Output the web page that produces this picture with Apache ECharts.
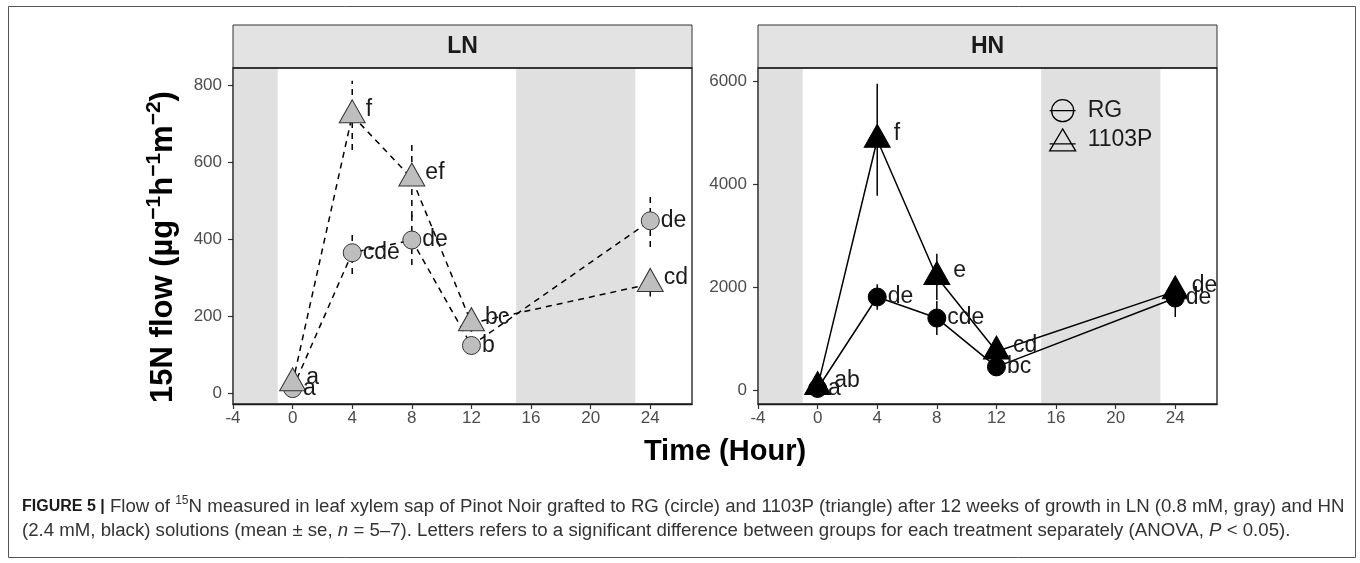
<!DOCTYPE html>
<html>
<head>
<meta charset="utf-8">
<script src="https://cdn.jsdelivr.net/npm/echarts@6/dist/echarts.min.js"></script>
<style>
  html, body { margin: 0; padding: 0; background: #fff; }
  #main { width: 1360px; height: 563px; }
</style>
</head>
<body>
<div id="main"></div>
<script>
// sampling times (hours)
const hours = [0, 4, 8, 12, 24]

// LN panel, mean and se
const lnRG = [12, 365, 398, 124, 448]
const lnRGse = [8, 55, 65, 10, 68]
const ln1103P = [26, 722, 558, 182, 284]
const ln1103Pse = [10, 90, 100, 22, 33]
const lnRGLetters = ['a', 'cde', 'de', 'b', 'de']
const ln1103PLetters = ['a', 'f', 'ef', 'bc', 'cd']

// HN panel, mean and se
const hnRG = [30, 1810, 1400, 450, 1790]
const hnRGse = [20, 250, 330, 60, 370]
const hn1103P = [60, 4870, 2200, 750, 1920]
const hn1103Pse = [30, 1090, 450, 90, 100]
const hnRGLetters = ['a', 'de', 'cde', 'bc', 'de']
const hn1103PLetters = ['ab', 'f', 'e', 'cd', 'de']

// axis ticks
const xTicks = [-4, 0, 4, 8, 12, 16, 20, 24]
const yTicksLN = [0, 200, 400, 600, 800]
const yTicksHN = [0, 2000, 4000, 6000]

// shaded night periods (hours)
const nightBands = [[-4, -1], [15, 23]]

const FONT = '"Liberation Sans", Arial, sans-serif'
const myChart = echarts.init(document.getElementById('main'), null, { renderer: 'canvas' })

function xAxisFor(gi) {
  return {
    gridIndex: gi,
    type: 'value',
    min: -4,
    max: 26.8,
    axisLine: { onZero: false, lineStyle: { color: '#1a1a1a', width: 1.3 } },
    axisTick: { customValues: xTicks, length: 5, lineStyle: { color: '#333', width: 1.2 } },
    axisLabel: { customValues: xTicks, fontSize: 17, color: '#4d4d4d', margin: 6, formatter: v => String(v) },
    splitLine: { show: false }
  }
}

function yAxisFor(gi, min, max, ticks) {
  return {
    gridIndex: gi,
    type: 'value',
    min: min,
    max: max,
    axisLine: { show: true, onZero: false, lineStyle: { color: '#1a1a1a', width: 1.3 } },
    axisTick: { show: true, customValues: ticks, length: 5, lineStyle: { color: '#333', width: 1.2 } },
    axisLabel: { customValues: ticks, fontSize: 17, color: '#4d4d4d', margin: 11, formatter: v => String(v) },
    splitLine: { show: false }
  }
}

const pairs = (vals) => hours.map((h, i) => [h, vals[i]])

// one panel = error bars + lines + points
function panelSeries(gi, rg, rgSe, p, pSe, rgLab, pLab, dashed, fill, stroke, pDist) {
  const dash = dashed ? [6, 5] : 'solid'
  const errData = []
  hours.forEach((h, i) => {
    errData.push([h, rg[i] - rgSe[i], rg[i] + rgSe[i]])
    errData.push([h, p[i] - pSe[i], p[i] + pSe[i]])
  })
  const labelStyle = { show: true, position: 'right', fontSize: 23, color: '#1a1a1a', fontFamily: FONT }
  return [
    {
      type: 'custom',
      name: 'se',
      xAxisIndex: gi,
      yAxisIndex: gi,
      z: 2,
      silent: true,
      encode: { x: 0, y: [1, 2] },
      data: errData,
      renderItem(params, api) {
        const a = api.coord([api.value(0), api.value(1)])
        const b = api.coord([api.value(0), api.value(2)])
        return {
          type: 'line',
          shape: { x1: a[0], y1: a[1], x2: b[0], y2: b[1] },
          style: { stroke: '#000', lineWidth: 1.5, lineDash: dashed ? [6, 5] : null }
        }
      }
    },
    {
      type: 'line',
      name: 'RG',
      xAxisIndex: gi,
      yAxisIndex: gi,
      z: 3,
      showSymbol: false,
      data: pairs(rg),
      lineStyle: { color: '#000', width: 1.5, type: dash },
      markArea: {
        silent: true,
        itemStyle: { color: '#e0e0e0' },
        data: nightBands.map(b => [{ xAxis: b[0] }, { xAxis: b[1] }])
      }
    },
    {
      type: 'line',
      name: '1103P',
      xAxisIndex: gi,
      yAxisIndex: gi,
      z: 3,
      showSymbol: false,
      data: pairs(p),
      lineStyle: { color: '#000', width: 1.5, type: dash }
    },
    {
      type: 'scatter',
      name: 'RG',
      xAxisIndex: gi,
      yAxisIndex: gi,
      z: 4,
      symbol: 'circle',
      symbolSize: 18,
      data: pairs(rg),
      itemStyle: { color: fill, borderColor: stroke, borderWidth: 1, opacity: 1 },
      label: Object.assign({}, labelStyle, { distance: 1, formatter: (d) => rgLab[d.dataIndex] })
    },
    {
      type: 'scatter',
      name: '1103P',
      xAxisIndex: gi,
      yAxisIndex: gi,
      z: 4,
      symbol: 'triangle',
      symbolSize: [26, 23],
      symbolOffset: [0, -4],
      data: pairs(p),
      itemStyle: { color: fill, borderColor: stroke, borderWidth: 1, opacity: 1 },
      label: Object.assign({}, labelStyle, { distance: pDist, offset: [0, -2], formatter: (d) => pLab[d.dataIndex] })
    }
  ]
}

const circleIcon = 'path://M0 12L26 12M24 12A11 11 0 1 1 2 12A11 11 0 1 1 24 12Z'
const triangleIcon = 'path://M13 0L26 22L0 22ZM0 15L26 15'
const iconStyle = { color: 'rgba(0,0,0,0)', borderColor: '#000', borderWidth: 1.3 }

function strip(x, text) {
  return [
    {
      type: 'rect',
      shape: { x: x, y: 25, width: 459, height: 43 },
      style: { fill: '#e3e3e3', stroke: '#333', lineWidth: 1 },
      z: 20
    },
    {
      type: 'text',
      x: x + 229.5,
      y: 47,
      style: { text: text, fontSize: 23, fontWeight: 'bold', fill: '#1a1a1a', fontFamily: FONT, align: 'center', verticalAlign: 'middle' },
      z: 21
    },
    {
      type: 'rect',
      shape: { x: x, y: 68, width: 459, height: 336 },
      style: { fill: null, stroke: '#1a1a1a', lineWidth: 1.3 },
      z: 20
    }
  ]
}

const caption = '{b|FIGURE 5 |} Flow of {sup|15}N measured in leaf xylem sap of Pinot Noir grafted to RG (circle) and 1103P (triangle) after 12 weeks of growth in LN (0.8 mM, gray) and HN\n' +
  '(2.4 mM, black) solutions (mean ± se, {i|n} = 5–7). Letters refers to a significant difference between groups for each treatment separately (ANOVA, {i|P} < 0.05).'

myChart.setOption({
  animation: false,
  backgroundColor: '#fff',
  textStyle: { fontFamily: FONT },
  grid: [
    { left: 233, top: 68, width: 459, height: 336, outerBoundsMode: 'none' },
    { left: 758, top: 68, width: 459, height: 336, outerBoundsMode: 'none' }
  ],
  xAxis: [xAxisFor(0), xAxisFor(1)],
  yAxis: [
    Object.assign(yAxisFor(0, -28, 845, yTicksLN), {
      name: '15N flow (µg{s|−1}h{s|−1}m{s|−2})',
      nameLocation: 'middle',
      nameRotate: 90,
      nameGap: 51,
      nameTextStyle: {
        fontSize: 31,
        fontWeight: 'bold',
        color: '#000',
        fontFamily: FONT,
        lineHeight: 38,
        padding: [0, 22, 0, 0],
        rich: { s: { fontSize: 21, fontWeight: 'bold', color: '#000', fontFamily: FONT, verticalAlign: 'top', lineHeight: 24 } }
      }
    }),
    yAxisFor(1, -272, 6266, yTicksHN)
  ],
  legend: {
    orient: 'vertical',
    left: 1044,
    top: 94,
    itemWidth: 26,
    itemHeight: 24,
    itemGap: 6,
    selectedMode: false,
    textStyle: { fontSize: 23, color: '#1a1a1a', fontFamily: FONT, padding: [0, 0, 0, 7] },
    data: [
      { name: 'RG', icon: circleIcon, itemStyle: iconStyle },
      { name: '1103P', icon: triangleIcon, itemStyle: iconStyle }
    ]
  },
  series: [
    ...panelSeries(0, lnRG, lnRGse, ln1103P, ln1103Pse, lnRGLetters, ln1103PLetters, true, '#bebebe', '#333', 0),
    ...panelSeries(1, hnRG, hnRGse, hn1103P, hn1103Pse, hnRGLetters, hn1103PLetters, false, '#000', '#000', 3)
  ],
  graphic: [
    {
      type: 'rect',
      shape: { x: 8.5, y: 6.5, width: 1347, height: 551 },
      style: { fill: null, stroke: '#555', lineWidth: 1 },
      z: 0
    },
    ...strip(233, 'LN'),
    ...strip(758, 'HN'),
    {
      type: 'text',
      x: 725,
      y: 452,
      style: { text: 'Time (Hour)', fontSize: 29, fontWeight: 'bold', fill: '#000', fontFamily: FONT, align: 'center', verticalAlign: 'middle' },
      z: 20
    },
    {
      type: 'text',
      x: 22,
      y: 495,
      style: {
        text: caption,
        fontSize: 18.65,
        lineHeight: 24,
        fill: '#333',
        fontFamily: FONT,
        rich: {
          b: { fontWeight: 'bold', fontSize: 16, fill: '#1a1a1a', fontFamily: FONT, lineHeight: 24 },
          sup: { fontSize: 12, fill: '#333', verticalAlign: 'top', lineHeight: 18, fontFamily: FONT },
          i: { fontStyle: 'italic', fontSize: 18.65, fill: '#333', fontFamily: FONT, lineHeight: 24 }
        }
      },
      z: 20
    }
  ]
})
</script>
</body>
</html>
